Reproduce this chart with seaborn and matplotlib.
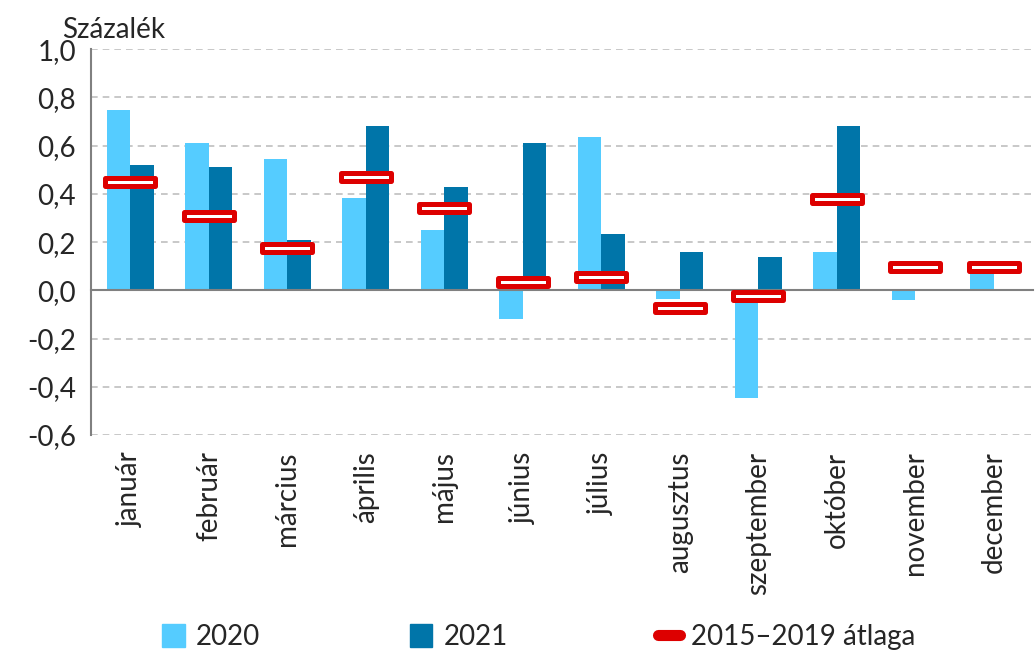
# Monthly price change chart: 2020, 2021 and the 2015-2019 average

import numpy as np
import pandas as pd
import seaborn as sns
import matplotlib.pyplot as plt
from matplotlib.path import Path
from matplotlib.patches import Patch
from matplotlib.lines import Line2D

# 1. The data
months = ['január', 'február', 'március', 'április', 'május', 'június',
          'július', 'augusztus', 'szeptember', 'október', 'november', 'december']
values_2020 = [0.75, 0.61, 0.545, 0.385, 0.25, -0.12, 0.635, -0.035, -0.445, 0.16, -0.04, 0.095]
values_2021 = [0.52, 0.51, 0.21, 0.68, 0.43, 0.61, 0.235, 0.16, 0.14, 0.68, np.nan, np.nan]
avg_2015_2019 = [0.45, 0.31, 0.175, 0.47, 0.34, 0.035, 0.055, -0.075, -0.025, 0.38, 0.095, 0.095]
y_ticks = [-0.6, -0.4, -0.2, 0.0, 0.2, 0.4, 0.6, 0.8, 1.0]
y_labels = ['-0,6', '-0,4', '-0,2', '0,0', '0,2', '0,4', '0,6', '0,8', '1,0']

# 2. Long format for the bars
df = pd.DataFrame({
    'month': months * 2,
    'value': values_2020 + values_2021,
    'year': ['2020'] * 12 + ['2021'] * 12,
})

light_blue = '#55CCFF'
dark_blue = '#0075A9'
red = '#DD0000'

sns.set_style('white')
plt.rcParams['font.family'] = ['Lato', 'DejaVu Sans']
fs = 20

fig = plt.figure(figsize=(10.36, 6.57), dpi=100)
ax = fig.add_axes([0.088, 0.338, 0.909, 0.587])

# Gridlines first so they sit behind the bars
for t in y_ticks:
    if t != 0:
        ax.axhline(t, color='#BFBFBF', lw=1.2, ls=(0, (4, 3)), zorder=0)

sns.barplot(data=df, x='month', y='value', hue='year', order=months,
            palette=[light_blue, dark_blue], width=0.6, gap=0, saturation=1,
            errorbar=None, legend=False, linewidth=0, ax=ax, zorder=2)

# The average as a red outlined rectangle with white inside
box = Path([(-1, -0.15), (1, -0.15), (1, 0.15), (-1, 0.15), (-1, -0.15)],
           [Path.MOVETO, Path.LINETO, Path.LINETO, Path.LINETO, Path.CLOSEPOLY])
sns.scatterplot(x=np.arange(len(months)), y=avg_2015_2019, marker=box, s=(50 * 0.72) ** 2,
                color='white', edgecolor=red, linewidth=3.6, ax=ax, zorder=4)

# Axes styling
ax.set_xlim(-0.5, len(months) - 0.5)
ax.set_ylim(-0.6, 1.0)
ax.set_yticks(y_ticks)
ax.set_yticklabels(y_labels, fontsize=fs)
ax.set_xlabel('')
ax.set_ylabel('')

ax.spines['top'].set_visible(False)
ax.spines['right'].set_visible(False)
ax.spines['left'].set_color('#808080')
ax.spines['left'].set_linewidth(1.5)
ax.spines['bottom'].set_position(('data', 0))
ax.spines['bottom'].set_color('#808080')
ax.spines['bottom'].set_linewidth(1.5)

ax.tick_params(axis='y', direction='out', length=7, width=1.5, color='#808080', pad=4)
ax.set_xticks(np.arange(len(months)))
ax.set_xticklabels(months, rotation=90, fontsize=fs, va='top')
ax.set_xticks(np.arange(len(months) + 1) - 0.5, minor=True)
ax.tick_params(axis='x', which='major', length=0, pad=116)
ax.tick_params(axis='x', which='minor', direction='out', length=7, width=1.5, color='#808080')

fig.text(0.06, 0.955, 'Százalék', fontsize=fs, va='center', ha='left')

# Legend
handles = [Patch(color=light_blue), Patch(color=dark_blue),
           Line2D([0], [0], color=red, lw=8, solid_capstyle='round')]
fig.legend(handles, ['2020', '2021', '2015–2019 átlaga'], loc='center',
           bbox_to_anchor=(0.52, 0.03), ncol=3, frameon=False, fontsize=fs,
           handlelength=0.8, handleheight=0.9, handletextpad=0.4, columnspacing=5.4)

fig.savefig('out.png', dpi=100)
